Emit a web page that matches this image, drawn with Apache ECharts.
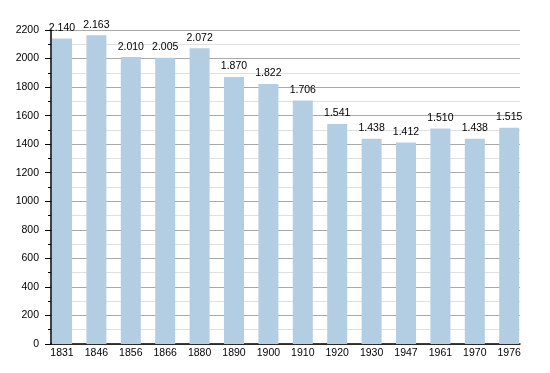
<!DOCTYPE html>
<html><head><meta charset="utf-8">
<script src="https://cdn.jsdelivr.net/npm/echarts@6/dist/echarts.min.js"></script>
<style>html,body{margin:0;padding:0;background:#fff}#c{width:550px;height:373px}</style>
</head><body><div id="c"></div>
<script>
const years = ['1831','1846','1856','1866','1880','1890','1900','1910','1920','1930','1947','1961','1970','1976'];
const population = [2140,2163,2010,2005,2072,1870,1822,1706,1541,1438,1412,1510,1438,1515];
const yTicks = [0,200,400,600,800,1000,1200,1400,1600,1800,2000,2200];

const chart = echarts.init(document.getElementById('c'));
const fmt = v => { const s = String(v); return s.length > 3 ? s.slice(0, s.length-3) + '.' + s.slice(-3) : s; };
const yMin = yTicks[0], yMax = yTicks[yTicks.length-1];
const FONT = 'Liberation Sans';
chart.setOption({
  animation: false,
  grid: [
    {left: 51, right: 30, top: 30, bottom: 29},
    {left: 44.8, width: 481.6, top: 30, bottom: 29}
  ],
  xAxis: [
    {type: 'category', data: years, gridIndex: 0,
     axisLine: {lineStyle: {color: '#000', width: 1.5}},
     axisTick: {show: false}, axisLabel: {show: false}},
    {type: 'category', data: years, gridIndex: 1,
     axisLine: {show: false}, axisTick: {show: false},
     axisLabel: {color: '#000', fontSize: 10.5, fontFamily: FONT, margin: 4}}
  ],
  yAxis: [
    {type: 'value', min: yMin, max: yMax, interval: 200, gridIndex: 0,
     axisLine: {show: true, lineStyle: {color: '#000', width: 1.5}},
     axisTick: {show: true, length: 6, lineStyle: {color: '#000'}},
     minorTick: {show: true, splitNumber: 2, length: 3, lineStyle: {color: '#000'}},
     axisLabel: {color: '#000', fontSize: 10.5, fontFamily: FONT, margin: 12, formatter: v => String(v)},
     splitLine: {show: true, lineStyle: {color: '#a8a8a8', width: 1}},
     minorSplitLine: {show: true, lineStyle: {color: '#e0e0e0', width: 1}}},
    {type: 'value', min: yMin, max: yMax, gridIndex: 1, show: false, splitLine: {show: false}}
  ],
  series: [{
    type: 'bar', data: population, barWidth: 20, xAxisIndex: 1, yAxisIndex: 1,
    itemStyle: {color: '#b3cde3'},
    label: {show: true, position: 'top', distance: 5, color: '#000', fontSize: 10.5, fontFamily: FONT,
      formatter: p => fmt(p.value)}
  }]
});
</script></body></html>
